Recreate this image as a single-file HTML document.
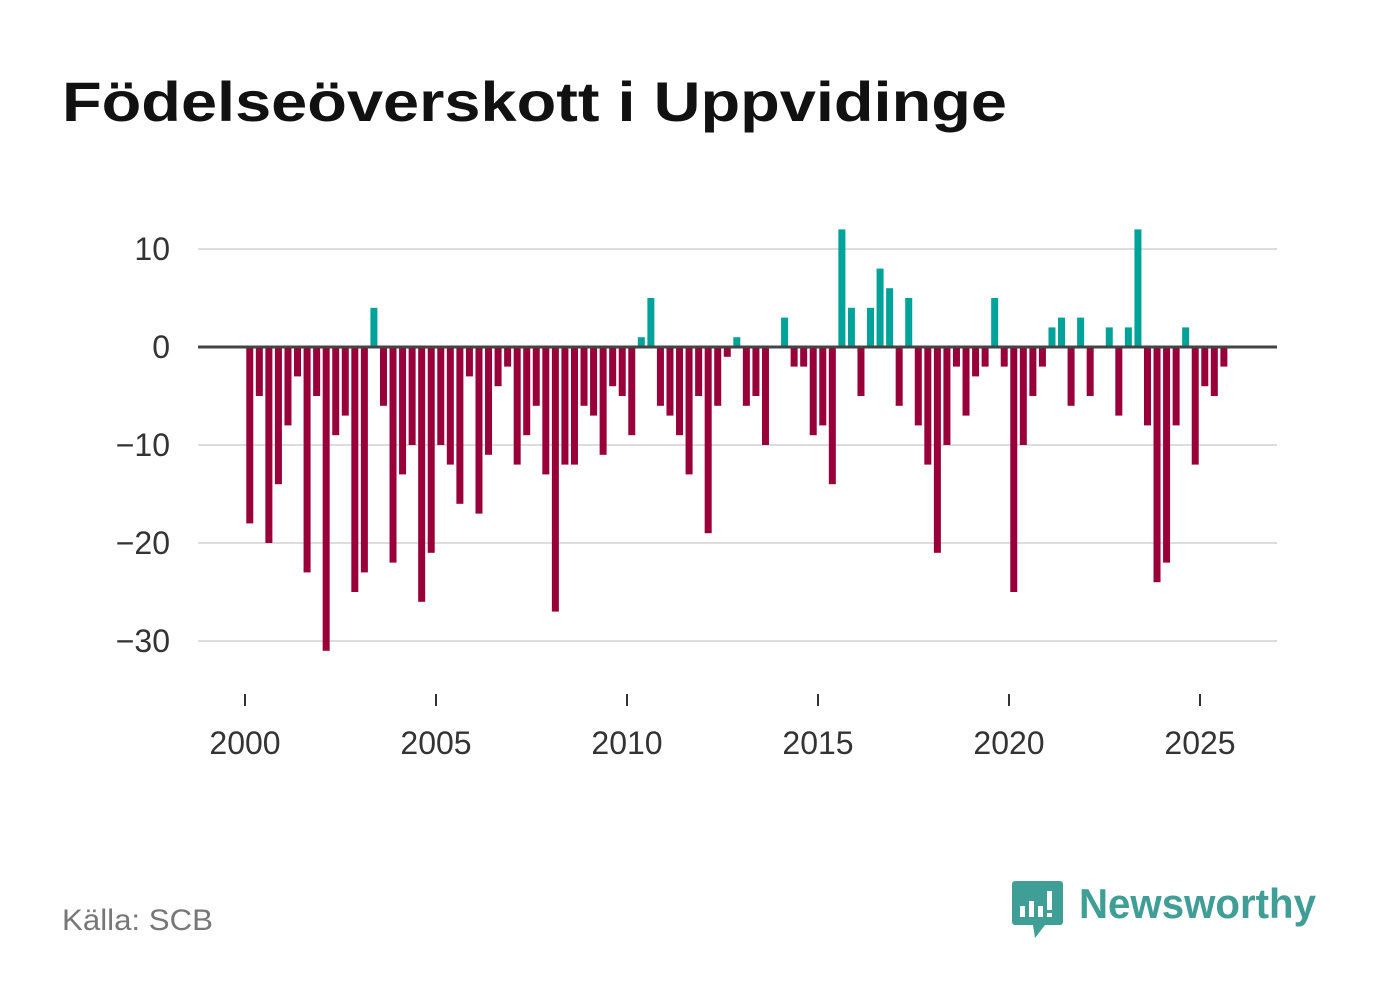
<!DOCTYPE html>
<html><head><meta charset="utf-8"><style>
body{margin:0;background:#fff;width:1382px;height:999px;overflow:hidden;font-family:"Liberation Sans","DejaVu Sans",sans-serif}
</style></head><body>
<svg width="1382" height="999" xmlns="http://www.w3.org/2000/svg">
<text x="62" y="121" font-size="56" font-weight="bold" fill="#111" textLength="945" lengthAdjust="spacingAndGlyphs" font-family="Liberation Sans, DejaVu Sans, sans-serif">Födelseöverskott i Uppvidinge</text>
<g id="grid"></g><g id="bars"></g><g id="axes"></g>
<text x="62" y="930" font-size="30" fill="#777" textLength="151" lengthAdjust="spacingAndGlyphs">Källa: SCB</text>
<g>
<path d="M1015 881 h45 a3 3 0 0 1 3 3 v38 a3 3 0 0 1 -3 3 h-15 l-10 13 l-2 -13 h-18 a3 3 0 0 1 -3 -3 v-38 a3 3 0 0 1 3 -3z" fill="#3f9e95"/>
<rect x="1020" y="906" width="5" height="11" fill="#fff"/><rect x="1029" y="901" width="5" height="16" fill="#fff"/><rect x="1038" y="906" width="5" height="11" fill="#fff"/><rect x="1047" y="891" width="5" height="19" fill="#fff"/><rect x="1047" y="913" width="5" height="4" fill="#fff"/>
<text x="1079" y="918" font-size="42" font-weight="bold" fill="#3f9e95" textLength="237" lengthAdjust="spacingAndGlyphs">Newsworthy</text>
</g>
</svg>
<script>
const values=[-18,-5,-20,-14,-8,-3,-23,-5,-31,-9,-7,-25,-23,4,-6,-22,-13,-10,-26,-21,-10,-12,-16,-3,-17,-11,-4,-2,-12,-9,-6,-13,-27,-12,-12,-6,-7,-11,-4,-5,-9,1,5,-6,-7,-9,-13,-5,-19,-6,-1,1,-6,-5,-10,0,3,-2,-2,-9,-8,-14,12,4,-5,4,8,6,-6,5,-8,-12,-21,-10,-2,-7,-3,-2,5,-2,-25,-10,-5,-2,2,3,-6,3,-5,0,2,-7,2,12,-8,-24,-22,-8,2,-12,-4,-5,-2];
const startYear=2000;
const yTicks=[10,0,-10,-20,-30];
const yLabels=["10","0","−10","−20","−30"];
const xTicks=[2000,2005,2010,2015,2020,2025];
const NS="http://www.w3.org/2000/svg";
const y=v=>347-v*9.8;
const x=t=>245+(t-2000)*38.2;
function mk(tag,attrs,parent){const e=document.createElementNS(NS,tag);for(const k in attrs)e.setAttribute(k,attrs[k]);document.getElementById(parent).appendChild(e);return e;}
yTicks.forEach((v,i)=>{
 if(v!==0){const l=mk('line',{x1:198,x2:1277,y1:y(v),y2:y(v),stroke:'#ddd','stroke-width':2},'grid');
 
 }
 const t=mk('text',{x:170,y:y(v)+11,'font-size':32,fill:'#333','text-anchor':'end'},'axes');
 t.textContent=yLabels[i];
 
 
});
values.forEach((v,i)=>{
 const cx=x(startYear+(i+0.5)/4);
 const r=mk('rect',{x:cx-3.5,width:7,y:Math.min(y(v),y(0)),height:Math.abs(y(v)-y(0)),fill:v>=0?'#00a39a':'#99003a'},'bars');
 
 
});
const z=mk('line',{x1:198,x2:1277,y1:y(0),y2:y(0),stroke:'#444','stroke-width':3},'axes');


xTicks.forEach(t=>{
 const l=mk('line',{x1:x(t),x2:x(t),y1:694,y2:706,stroke:'#333','stroke-width':2},'axes');
 
 
 const tx=mk('text',{x:x(t),y:754,'font-size':32,fill:'#333','text-anchor':'middle'},'axes');
 tx.textContent=t;
 
 
});
</script>
</body></html>
